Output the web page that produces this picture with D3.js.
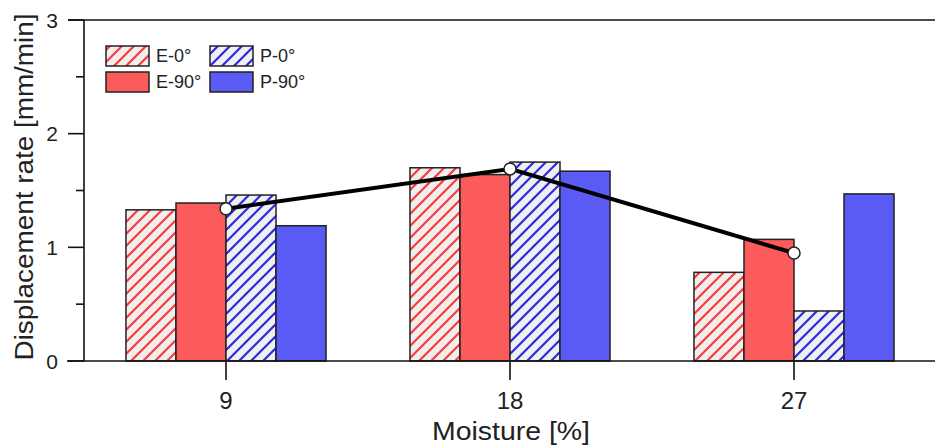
<!DOCTYPE html>
<html><head><meta charset="utf-8">
<script src="https://cdn.jsdelivr.net/npm/d3@7"></script>
<style>html,body{margin:0;padding:0;background:#fff;overflow:hidden}</style>
</head><body>
<svg id="c" width="935" height="446"></svg>
<script>
const categories = [9, 18, 27];
const seriesNames = ["E-0°", "E-90°", "P-0°", "P-90°"];
const valsE0  = [1.33, 1.70, 0.78];
const valsE90 = [1.39, 1.64, 1.07];
const valsP0  = [1.46, 1.75, 0.44];
const valsP90 = [1.19, 1.67, 1.47];
const lineVals = [1.34, 1.69, 0.95];
const yTicks = [0, 1, 2, 3];
const yMinorTicks = [0.5, 1.5, 2.5];

const series = [valsE0, valsE90, valsP0, valsP90];
const styles = [
  {fill: "url(#hatchR)"},
  {fill: "#fb5b5b"},
  {fill: "url(#hatchB)"},
  {fill: "#5a5af4"}
];

const svg = d3.select("#c");
const W = 935, H = 446;
const mLeft = 84, mTop = 20, mBottom = 361;
const x = d3.scaleLinear().domain([4.5, 4.5 + (W - mLeft) / (284 / 9)]).range([mLeft, W]);
const y = d3.scaleLinear().domain([0, 3]).range([mBottom, mTop]);
const half = x(9 + 3.17) - x(9);
const sub = d3.scaleBand().domain(seriesNames).range([-half, half]).padding(0);

const defs = svg.append("defs");
function hatch(id, color) {
  const p = defs.append("pattern").attr("id", id).attr("patternUnits", "userSpaceOnUse")
    .attr("width", 12).attr("height", 12);
  p.append("rect").attr("width", 12).attr("height", 12).attr("fill", "#efefef");
  p.append("path").attr("d", "M-3,3 L3,-3 M0,12 L12,0 M9,15 L15,9")
    .attr("stroke", color).attr("stroke-width", 2.2);
}
hatch("hatchR", "#ff3a3a");
hatch("hatchB", "#2a2ae6");

// bars
series.forEach((vals, si) => {
  svg.append("g").selectAll("rect").data(vals).join("rect")
    .attr("x", (d, i) => x(categories[i]) + sub(seriesNames[si]))
    .attr("y", d => y(d))
    .attr("width", sub.bandwidth())
    .attr("height", d => y(0) - y(d))
    .attr("fill", styles[si].fill)
    .attr("stroke", "#222").attr("stroke-width", 1.5);
});

// axes
const ax = svg.append("g").attr("stroke", "#111").attr("stroke-width", 1.6);
ax.append("line").attr("x1", 67).attr("x2", W).attr("y1", y(0)).attr("y2", y(0));
ax.append("line").attr("x1", 68).attr("x2", W).attr("y1", y(3)).attr("y2", y(3));
ax.append("line").attr("x1", mLeft).attr("x2", mLeft).attr("y1", y(3)).attr("y2", y(0));
ax.selectAll(".ymaj").data(yTicks).join("line")
  .attr("x1", 68).attr("x2", mLeft).attr("y1", d => y(d)).attr("y2", d => y(d));
ax.selectAll(".ymin").data(yMinorTicks).join("line")
  .attr("x1", 76).attr("x2", mLeft).attr("y1", d => y(d)).attr("y2", d => y(d));
ax.selectAll(".xt").data(categories).join("line")
  .attr("x1", d => x(d)).attr("x2", d => x(d)).attr("y1", y(0)).attr("y2", y(0) + 19);

const font = "'Liberation Sans', Arial, sans-serif";
svg.append("g").selectAll("text").data(yTicks).join("text")
  .attr("x", 58).attr("y", d => y(d)).attr("dy", "0.36em")
  .attr("text-anchor", "end").attr("font-family", font).attr("font-size", 21).attr("fill", "#222")
  .text(d => d);
svg.append("g").selectAll("text").data(categories).join("text")
  .attr("x", d => x(d)).attr("y", 409)
  .attr("text-anchor", "middle").attr("font-family", font).attr("font-size", 24).attr("fill", "#222")
  .text(d => d);

svg.append("text").attr("transform", `translate(33,187) rotate(-90)`)
  .attr("text-anchor", "middle").attr("font-family", font).attr("font-size", 26).attr("fill", "#222")
  .attr("textLength", 347).attr("lengthAdjust", "spacingAndGlyphs")
  .text("Displacement rate  [mm/min]");
svg.append("text").attr("x", 511).attr("y", 440)
  .attr("text-anchor", "middle").attr("font-family", font).attr("font-size", 26).attr("fill", "#222")
  .attr("textLength", 158).attr("lengthAdjust", "spacingAndGlyphs")
  .text("Moisture [%]");

// line
const line = d3.line().x((d, i) => x(categories[i])).y(d => y(d));
svg.append("path").attr("d", line(lineVals)).attr("fill", "none")
  .attr("stroke", "#000").attr("stroke-width", 4);
svg.append("g").selectAll("circle").data(lineVals).join("circle")
  .attr("cx", (d, i) => x(categories[i])).attr("cy", d => y(d)).attr("r", 6)
  .attr("fill", "#fff").attr("stroke", "#222").attr("stroke-width", 1.5);

// legend
const leg = svg.append("g").attr("font-family", font).attr("font-size", 18).attr("fill", "#222");
const legPos = [[106, 46], [106, 72], [210, 46], [210, 72]];
seriesNames.forEach((n, i) => {
  const [lx, ly] = legPos[i];
  leg.append("rect").attr("x", lx).attr("y", ly).attr("width", 43).attr("height", 20)
    .attr("fill", styles[i].fill).attr("stroke", "#222").attr("stroke-width", 1.5);
  leg.append("text").attr("x", lx + 50).attr("y", ly + 10).attr("dy", "0.36em").text(n);
});
</script>
</body></html>
